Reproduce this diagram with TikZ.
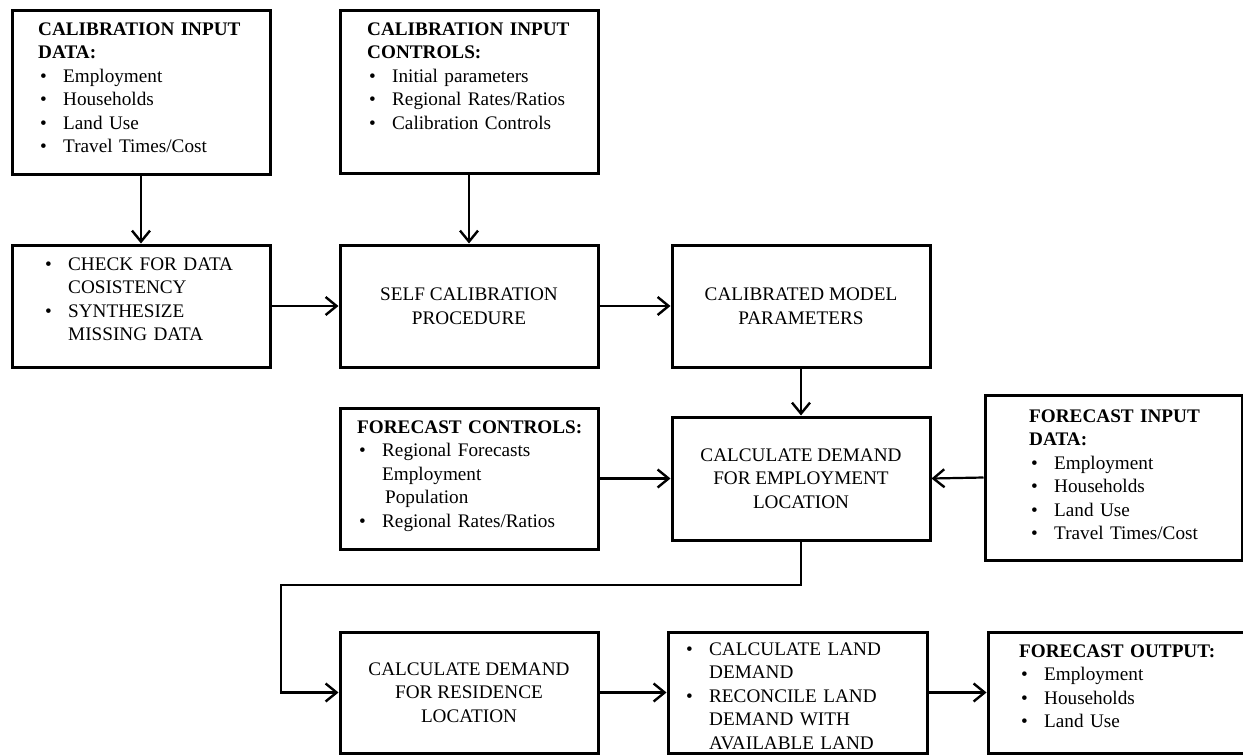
\documentclass[tikz,border=0pt]{standalone}
\usepackage{fontspec}
\setmainfont{Liberation Serif}
\usetikzlibrary{arrows.meta,calc}
\newcommand{\fs}{\fontsize{19.2pt}{23.5pt}\selectfont}
\newcommand{\bu}{\makebox[25pt][l]{\hspace{2pt}\textbullet}}
\newcommand{\ind}{\hspace*{25pt}}
\begin{document}
\begin{tikzpicture}[x=1pt,y=-1pt,
  box/.style={draw, line width=3pt, inner sep=0pt, font=\fs, align=center},
  txt/.style={anchor=base west, inner sep=0pt, font=\fs, align=left, text width=250pt},
  arr/.style={line width=2.2pt, -{Straight Barb[length=11pt,width=18pt,line width=2.4pt]}}]
\useasboundingbox (0,0) rectangle (1243,755);
\clip (0,0) rectangle (1243,755);
% boxes
\node[box, minimum width=258pt, minimum height=164pt] (cid) at (141,92) {};
\node[box, minimum width=258pt, minimum height=163pt] (cic) at (469,91.5) {};
\node[box, minimum width=258pt, minimum height=122pt] (chk) at (141,306) {};
\node[box, minimum width=258pt, minimum height=122pt] (self) at (469,306) {SELF CALIBRATION\\PROCEDURE};
\node[box, minimum width=258pt, minimum height=122pt] (calp) at (801,306) {CALIBRATED MODEL\\PARAMETERS};
\node[box, minimum width=258pt, minimum height=141pt] (fc) at (469,478.5) {};
\node[box, minimum width=258pt, minimum height=123pt] (emp) at (801,478.5) {CALCULATE DEMAND\\FOR EMPLOYMENT\\LOCATION};
\node[box, minimum width=257pt, minimum height=165pt] (fid) at (1113.5,477.5) {};
\node[box, minimum width=258pt, minimum height=121pt] (res) at (469,692.5) {CALCULATE DEMAND\\FOR RESIDENCE\\LOCATION};
\node[box, minimum width=259pt, minimum height=121pt] (land) at (797.5,692.5) {};
\node[box, minimum width=262pt, minimum height=121pt] (out) at (1119,692.5) {};
% texts
\node[txt] (cid-t) at (38,35) {\textbf{CALIBRATION INPUT}\\\textbf{DATA:}\\\bu Employment\\\bu Households\\\bu Land Use\\\bu Travel Times/Cost};
\node[txt] (cic-t) at (367,35) {\textbf{CALIBRATION INPUT}\\\textbf{CONTROLS:}\\\bu Initial parameters\\\bu Regional Rates/Ratios\\\bu Calibration Controls};
\node[txt] (chk-t) at (43,270) {\bu CHECK FOR DATA\\\ind COSISTENCY\\\bu SYNTHESIZE\\\ind MISSING DATA};
\node[txt] (fc-t) at (357,433) {\textbf{FORECAST CONTROLS:}\\\bu Regional Forecasts\\\ind Employment\\\hspace*{28pt}Population\\\bu Regional Rates/Ratios};
\node[txt] (fid-t) at (1029,422) {\textbf{FORECAST INPUT}\\\textbf{DATA:}\\\bu Employment\\\bu Households\\\bu Land Use\\\bu Travel Times/Cost};
\node[txt] (land-t) at (684,655) {\bu CALCULATE LAND\\\ind DEMAND\\\bu RECONCILE LAND\\\ind DEMAND WITH\\\ind AVAILABLE LAND};
\node[txt] (out-t) at (1019,657) {\textbf{FORECAST OUTPUT:}\\\bu Employment\\\bu Households\\\bu Land Use};
% connectors
\coordinate (e1) at (281,585);
\draw[arr] (cid.south) -- (chk.north);
\draw[arr] (cic.south) -- (self.north);
\draw[arr] (chk.east) -- (self.west);
\draw[arr] (self.east) -- (calp.west);
\draw[arr] (calp.south) -- (emp.north);
\draw[arr] (fc.east) -- (emp.west);
\draw[arr] (fid.west) -- (emp.east);
\draw[arr] (emp.south) |- (e1) |- (res.west);
\draw[arr] (res.east) -- (land.west);
\draw[arr] (land.east) -- (out.west);
\end{tikzpicture}
\end{document}
